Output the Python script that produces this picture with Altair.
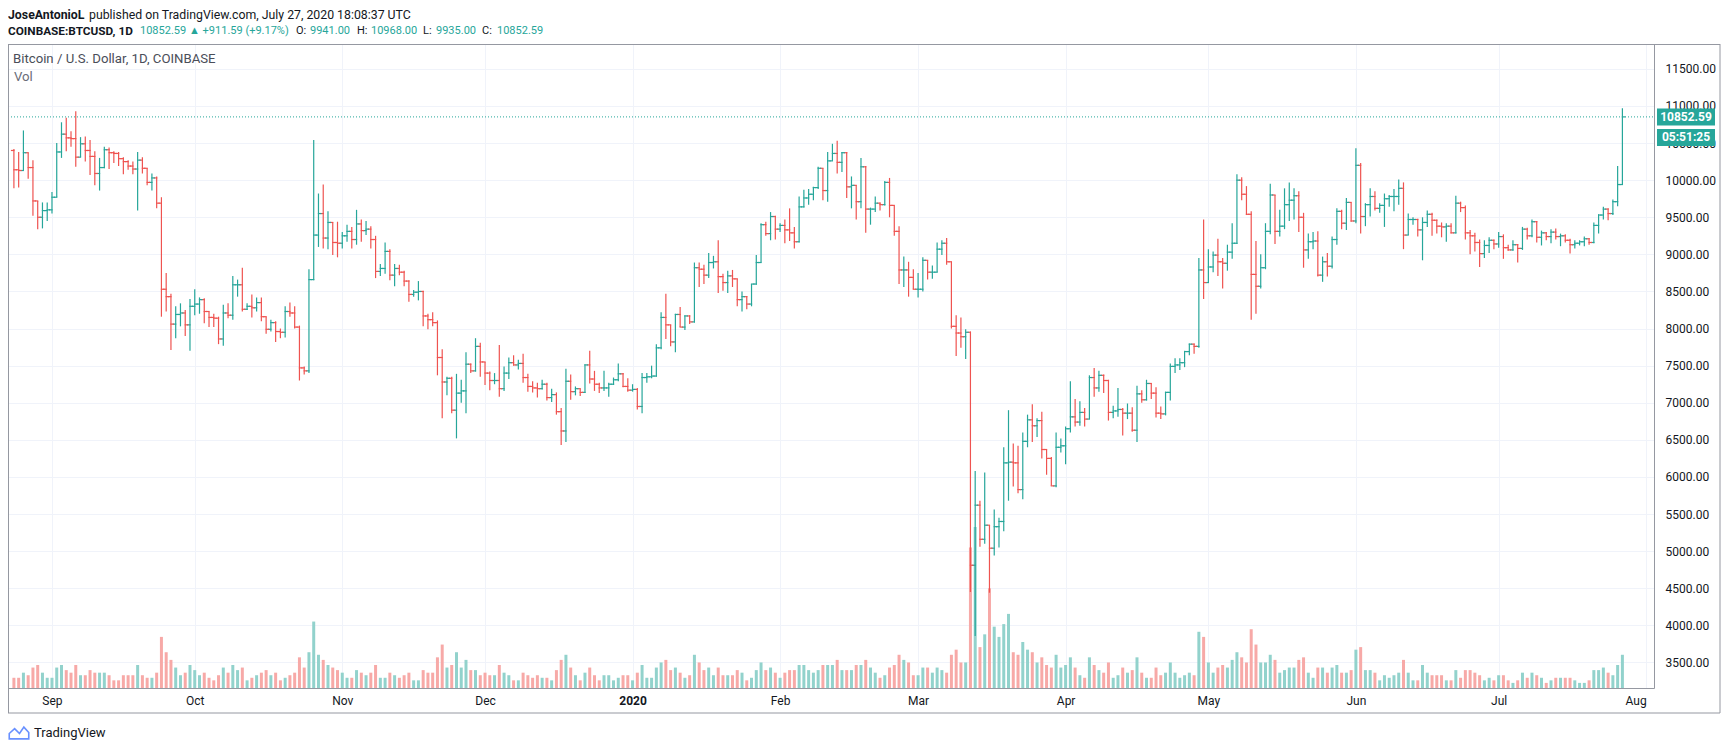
import altair as alt
import pandas as pd

FIRST_DAY = "2019-08-24"

OPEN = [
    10400, 10140, 10130, 10370, 10170, 9720, 9500, 9590,
    9600, 9770, 10380, 10620, 10570, 10560, 10310, 10490, 10400, 10320, 10090, 10170, 10410, 10370, 10360, 10290, 10250, 10190, 10150, 10270, 10160, 9970, 10030, 9690, 8530, 8430, 8060, 8190, 8210, 8050,
    8300, 8330, 8390, 8230, 8150, 8140, 7860, 8210, 8180, 8590, 8590, 8260, 8300, 8280, 8350, 8160, 7990, 8080, 7960, 7950, 8230, 8210, 8020, 7470, 7430, 8660, 9260, 9550, 9220, 9430, 9160,
    9150, 9250, 9310, 9200, 9410, 9320, 9340, 9200, 8770, 8810, 9040, 8720, 8810, 8760, 8640, 8460, 8490, 8500, 8170, 8120, 8080, 7610, 7280, 7330, 6900, 7130, 7160, 7520, 7430, 7760,
    7550, 7400, 7300, 7300, 7190, 7400, 7540, 7510, 7530, 7340, 7220, 7200, 7190, 7250, 7070, 7110, 6880, 6620, 7290, 7150, 7190, 7140, 7510, 7320, 7250, 7200, 7200, 7250, 7310, 7390, 7220,
    7170, 7180, 6950, 7340, 7350, 7360, 7740, 8150, 8050, 7820, 8190, 8020, 8170, 8090, 8820, 8800, 8720, 8890, 8900, 8700, 8620, 8710, 8670, 8390, 8430, 8330, 8600, 8890, 9400, 9280, 9510,
    9340, 9390, 9330, 9290, 9170, 9640, 9760, 9810, 9900, 10160, 9860, 10260, 10360, 10240, 10370, 9910, 9930, 9710, 10180, 9610, 9610, 9690, 9670, 9970, 9660, 9310, 8790, 8790, 8690,
    8530, 8530, 8920, 8760, 8760, 9070, 9150, 8900, 8030, 7940, 7890, 7950, 4810, 5620, 5160, 5350, 5040, 5330, 5400, 6190, 6200, 6190, 5830, 6480, 6770, 6690, 6760, 6370, 6250, 5880, 6400,
    6420, 6650, 6810, 6740, 6870, 6780, 7340, 7200, 7370, 7300, 6870, 6890, 6910, 6860, 6860, 6630, 7120, 7040, 7260, 7130, 6860, 6850, 7140, 7490, 7510, 7540, 7690, 7790, 7760, 8790,
    8620, 8830, 8990, 8900, 8880, 9030, 9150, 10000, 9810, 9540, 8730, 8570, 8820, 9310, 9800, 9310, 9380, 9670, 9730, 9790, 9500, 9060, 9170, 9180, 8720, 8900, 8840, 9200, 9580, 9420, 9700,
    9450, 10200, 9510, 9670, 9780, 9620, 9660, 9750, 9780, 9780, 9890, 9260, 9470, 9470, 9330, 9430, 9540, 9460, 9380, 9370, 9380, 9290, 9690, 9630, 9290, 9250, 9160, 9010, 9120, 9190,
    9140, 9240, 9090, 9060, 9130, 9080, 9340, 9250, 9440, 9230, 9290, 9240, 9300, 9240, 9250, 9190, 9130, 9150, 9170, 9210, 9160, 9390, 9530, 9610, 9550, 9710, 9941,
]
HIGH = [
    10420, 10380, 10670, 10370, 10270, 9720, 9700, 9700,
    9840, 10500, 10780, 10840, 10660, 10930, 10580, 10590, 10540, 10390, 10300, 10450, 10440, 10390, 10380, 10310, 10270, 10250, 10380, 10310, 10160, 10090, 10050, 9770, 8750, 8470, 8300, 8340, 8250, 8400,
    8530, 8420, 8410, 8230, 8200, 8160, 8320, 8340, 8710, 8660, 8820, 8340, 8460, 8420, 8420, 8160, 8120, 8100, 8000, 8300, 8350, 8300, 8040, 7490, 8800, 10540, 9820, 9940, 9580, 9430, 9440,
    9300, 9400, 9370, 9600, 9470, 9450, 9380, 9250, 8870, 9160, 9070, 8870, 8860, 8780, 8650, 8520, 8640, 8510, 8200, 8220, 8110, 7720, 7350, 7350, 7390, 7310, 7680, 7530, 7870, 7810,
    7550, 7420, 7400, 7780, 7490, 7610, 7640, 7580, 7660, 7390, 7290, 7270, 7310, 7270, 7190, 7140, 6930, 7460, 7380, 7220, 7190, 7520, 7700, 7430, 7270, 7430, 7270, 7340, 7530, 7400, 7330,
    7250, 7200, 7400, 7400, 7500, 7790, 8220, 8470, 8050, 8200, 8290, 8180, 8180, 8890, 8890, 8860, 9020, 8980, 9190, 8740, 8780, 8790, 8670, 8500, 8440, 8600, 8990, 9420, 9440, 9570, 9520,
    9420, 9470, 9620, 9370, 9780, 9870, 9880, 9910, 10180, 10160, 10380, 10490, 10530, 10380, 10380, 10050, 9930, 10300, 10190, 9630, 9780, 9700, 9990, 10030, 9660, 9380, 8970, 8900, 8800,
    8750, 8960, 8920, 8850, 9160, 9190, 9220, 8900, 8180, 8150, 7990, 7960, 6080, 5680, 6060, 5350, 5560, 5450, 6400, 6900, 6450, 6420, 6600, 6840, 6980, 6790, 6880, 6370, 6270, 6600, 6520,
    6680, 7290, 7050, 7020, 6930, 7370, 7470, 7430, 7380, 7310, 6960, 7200, 6930, 6990, 6940, 7230, 7170, 7310, 7260, 7210, 6950, 7150, 7530, 7600, 7600, 7700, 7800, 7800, 8950, 9470,
    9070, 9040, 9210, 8950, 9130, 9420, 10080, 10040, 9920, 9580, 9180, 9000, 9420, 9950, 9800, 9600, 9890, 9970, 9890, 9850, 9560, 9280, 9300, 9310, 8970, 9020, 9240, 9620, 9600, 9760, 9700,
    10430, 10230, 9690, 9890, 9850, 9690, 9820, 9800, 9880, 10010, 9970, 9550, 9500, 9480, 9500, 9590, 9560, 9470, 9430, 9420, 9420, 9790, 9710, 9660, 9330, 9290, 9200, 9190, 9230, 9200,
    9300, 9270, 9130, 9190, 9140, 9370, 9360, 9470, 9450, 9320, 9300, 9340, 9350, 9280, 9270, 9210, 9190, 9190, 9240, 9220, 9430, 9540, 9640, 9620, 9740, 10190, 10968,
]
LOW = [
    9890, 9900, 10130, 10020, 9520, 9340, 9350, 9450,
    9550, 9770, 10300, 10390, 10450, 10180, 10310, 10250, 10070, 9930, 9860, 10160, 10150, 10230, 10190, 10080, 10140, 10080, 9590, 10090, 9930, 9860, 9620, 8160, 8230, 7710, 7870, 8030, 7900, 7700,
    8180, 8200, 8070, 8020, 8020, 7790, 7770, 8140, 8120, 8430, 8230, 8250, 8150, 8230, 8100, 7930, 7960, 7820, 7870, 7880, 8160, 8000, 7300, 7380, 7400, 8650, 9100, 9080, 9070, 8990, 8960,
    9080, 9170, 9080, 9130, 9170, 9260, 9080, 8680, 8710, 8740, 8650, 8570, 8720, 8570, 8360, 8430, 8380, 8030, 7990, 8030, 7370, 6790, 7100, 6860, 6520, 7000, 6860, 7400, 7420, 7350,
    7240, 7170, 7250, 7080, 7160, 7320, 7500, 7450, 7270, 7150, 7140, 7070, 7180, 7030, 7010, 6840, 6430, 6470, 7040, 7100, 7090, 7130, 7260, 7160, 7130, 7160, 7080, 7240, 7290, 7210, 7150,
    7150, 6910, 6860, 7270, 7330, 7350, 7720, 7860, 7760, 7680, 8020, 7980, 8060, 8080, 8560, 8600, 8680, 8810, 8480, 8510, 8480, 8560, 8300, 8230, 8260, 8300, 8590, 8890, 9250, 9190, 9200,
    9300, 9150, 9180, 9080, 9160, 9630, 9670, 9730, 9880, 9730, 9710, 10260, 10090, 10110, 9760, 9620, 9470, 9620, 9290, 9400, 9570, 9590, 9660, 9500, 9250, 8600, 8560, 8430, 8530,
    8420, 8500, 8660, 8670, 8760, 8990, 8860, 8000, 7630, 7740, 7590, 4450, 3858, 5060, 5100, 4440, 4940, 5050, 5270, 5680, 5870, 5780, 5700, 6400, 6470, 6540, 6250, 6030, 5880, 5860, 6330,
    6170, 6600, 6680, 6690, 6680, 6780, 7080, 7150, 7130, 6760, 6790, 6810, 6560, 6780, 6610, 6470, 7000, 7030, 7050, 6800, 6780, 6830, 7030, 7400, 7440, 7480, 7640, 7660, 7740, 8400,
    8620, 8760, 8710, 8540, 8780, 8940, 9140, 9730, 9530, 8120, 8200, 8540, 8800, 9270, 9140, 9240, 9340, 9450, 9470, 9300, 8820, 8940, 9070, 8700, 8630, 8700, 8810, 9130, 9340, 9330, 9440,
    9420, 9280, 9380, 9510, 9590, 9560, 9370, 9640, 9580, 9670, 9070, 9260, 9400, 9240, 8920, 9370, 9250, 9280, 9230, 9170, 9280, 9280, 9570, 9200, 9000, 9040, 8830, 8950, 9020, 9070,
    9090, 8940, 9050, 9050, 8890, 9060, 9200, 9230, 9160, 9120, 9190, 9150, 9200, 9110, 9160, 9010, 9080, 9120, 9110, 9130, 9150, 9280, 9470, 9460, 9530, 9650, 9935,
]
CLOSE = [
    10140, 10130, 10370, 10170, 9720, 9500, 9590, 9600,
    9770, 10380, 10620, 10570, 10560, 10310, 10490, 10400, 10320, 10090, 10170, 10410, 10370, 10360, 10290, 10250, 10190, 10150, 10270, 10160, 9970, 10030, 9690, 8530, 8430, 8060, 8190, 8210, 8050, 8300,
    8330, 8390, 8230, 8150, 8140, 7860, 8210, 8180, 8590, 8590, 8260, 8300, 8280, 8350, 8160, 7990, 8080, 7960, 7950, 8230, 8210, 8020, 7470, 7430, 8660, 9260, 9550, 9220, 9430, 9160, 9150,
    9250, 9310, 9200, 9410, 9320, 9340, 9200, 8770, 8810, 9040, 8720, 8810, 8760, 8640, 8460, 8490, 8500, 8170, 8120, 8080, 7610, 7280, 7330, 6900, 7130, 7160, 7520, 7430, 7760, 7550,
    7400, 7300, 7300, 7190, 7400, 7540, 7510, 7530, 7340, 7220, 7200, 7190, 7250, 7070, 7110, 6880, 6620, 7290, 7150, 7190, 7140, 7510, 7320, 7250, 7200, 7200, 7250, 7310, 7390, 7220, 7170,
    7180, 6950, 7340, 7350, 7360, 7740, 8150, 8050, 7820, 8190, 8020, 8170, 8090, 8820, 8800, 8720, 8890, 8900, 8700, 8620, 8710, 8670, 8390, 8430, 8330, 8600, 8890, 9400, 9280, 9510, 9340,
    9390, 9330, 9290, 9170, 9640, 9760, 9810, 9900, 10160, 9860, 10260, 10360, 10240, 10370, 9910, 9930, 9710, 10180, 9610, 9610, 9690, 9670, 9970, 9660, 9310, 8790, 8790, 8690, 8530,
    8530, 8920, 8760, 8760, 9070, 9150, 8900, 8030, 7940, 7890, 7950, 4810, 5620, 5160, 5350, 5040, 5330, 5400, 6190, 6200, 6190, 5830, 6480, 6770, 6690, 6760, 6370, 6250, 5880, 6400, 6420,
    6650, 6810, 6740, 6870, 6780, 7340, 7200, 7370, 7300, 6870, 6890, 6910, 6860, 6860, 6630, 7120, 7040, 7260, 7130, 6860, 6850, 7140, 7490, 7510, 7540, 7690, 7790, 7760, 8790, 8620,
    8830, 8990, 8900, 8880, 9030, 9150, 10000, 9810, 9540, 8730, 8570, 8820, 9310, 9800, 9310, 9380, 9670, 9730, 9790, 9500, 9060, 9170, 9180, 8720, 8900, 8840, 9200, 9580, 9420, 9700, 9450,
    10200, 9510, 9670, 9780, 9620, 9660, 9750, 9780, 9780, 9890, 9260, 9470, 9470, 9330, 9430, 9540, 9460, 9380, 9370, 9380, 9290, 9690, 9630, 9290, 9250, 9160, 9010, 9120, 9190, 9140,
    9240, 9090, 9060, 9130, 9080, 9340, 9250, 9440, 9230, 9290, 9240, 9300, 9240, 9250, 9190, 9130, 9150, 9170, 9210, 9160, 9390, 9530, 9610, 9550, 9710, 9941, 10852.59,
]
# volume, thousand BTC
VOLUME = [
    4, 4, 6, 5, 8, 9, 6, 4,
    4, 8, 9, 7, 6, 9, 5, 5, 7, 6, 6, 6, 5, 3, 3, 5, 5, 5, 9, 5, 4, 4, 6, 20, 14, 11, 8, 5, 6, 9,
    7, 5, 6, 4, 3, 5, 8, 6, 9, 7, 8, 3, 4, 5, 6, 7, 5, 6, 3, 4, 5, 6, 12, 8, 14, 26, 13, 11, 9, 8, 7,
    6, 4, 4, 7, 6, 5, 6, 9, 4, 4, 6, 5, 4, 5, 6, 3, 3, 7, 6, 6, 12, 17, 8, 9, 14, 8, 11, 7, 7, 5,
    6, 5, 5, 9, 6, 5, 3, 3, 6, 5, 4, 5, 4, 4, 3, 7, 11, 13, 8, 5, 3, 6, 8, 5, 3, 5, 5, 3, 4, 5, 5,
    3, 6, 9, 4, 4, 8, 10, 11, 7, 8, 6, 4, 5, 13, 10, 7, 8, 5, 8, 5, 5, 5, 7, 6, 3, 4, 7, 10, 7, 8, 6,
    4, 6, 7, 7, 9, 9, 7, 6, 7, 9, 9, 9, 11, 7, 7, 7, 9, 9, 11, 8, 6, 4, 5, 8, 9, 13, 11, 10, 5,
    5, 8, 8, 6, 8, 7, 6, 13, 15, 10, 10, 55, 63, 16, 21, 39, 24, 20, 25, 29, 14, 13, 18, 15, 14, 10, 12, 9, 8, 13, 8,
    9, 12, 8, 5, 4, 12, 9, 7, 6, 10, 4, 5, 8, 6, 7, 12, 6, 4, 4, 8, 5, 6, 10, 6, 4, 5, 6, 5, 22, 20,
    10, 6, 8, 9, 8, 11, 14, 12, 10, 23, 17, 10, 10, 13, 11, 6, 7, 8, 8, 11, 12, 6, 4, 8, 8, 6, 8, 9, 6, 6, 7,
    15, 16, 7, 7, 6, 3, 5, 4, 5, 6, 11, 6, 3, 3, 9, 6, 5, 5, 5, 3, 3, 7, 4, 7, 7, 6, 5, 3, 4, 3,
    5, 5, 3, 2, 3, 6, 4, 6, 5, 4, 2, 3, 4, 4, 4, 4, 3, 2, 2, 3, 7, 7, 8, 6, 5, 9, 13,
]

PRICE_TICKS = [3500, 4000, 4500, 5000, 5500, 6000, 6500, 7000, 7500, 8000,
               8500, 9000, 9500, 10000, 10500, 11000, 11500]
MONTH_STARTS = ["2019-09-01", "2019-10-01", "2019-11-01", "2019-12-01", "2020-01-01",
                "2020-02-01", "2020-03-01", "2020-04-01", "2020-05-01", "2020-06-01",
                "2020-07-01", "2020-08-01"]
X_DOMAIN = ["2019-08-23T19:26:00", "2020-08-01T14:10:00"]
Y_DOMAIN = [3156, 11835]
VOL_DOMAIN = [0, 252]

USER = "JoseAntonioL"
PUBLISHED = "published on TradingView.com, July 27, 2020 18:08:37 UTC"
SYMBOL = "COINBASE:BTCUSD, 1D"
TITLE = "Bitcoin / U.S. Dollar, 1D, COINBASE"
COUNTDOWN = "05:51:25"

n = len(CLOSE)
assert len(OPEN) == n and len(HIGH) == n and len(LOW) == n and len(VOLUME) == n, (
    len(OPEN), len(HIGH), len(LOW), len(CLOSE), len(VOLUME))


def ms(s):
    return int(pd.Timestamp(s, tz="UTC").value // 10**6)


dates = pd.date_range(FIRST_DAY, periods=n, freq="D", tz="UTC")
df = pd.DataFrame({
    "date": [int(d.value // 10**6) for d in dates],
    "open": OPEN, "high": HIGH, "low": LOW, "close": CLOSE, "vol": VOLUME,
})

last = CLOSE[-1]
prev = CLOSE[-2]
chg = last - prev
pct = chg / prev * 100
last_df = pd.DataFrame({"p": [last], "label": [f"{last:.2f}"], "cd": [COUNTDOWN]})

W, H = 1646, 644
TEAL, RED = "#26a69a", "#ef5350"
TEAL_L, RED_L = "#92d2cc", "#f7a9a7"
DARK = "#131722"
GRID = "#f0f3fa"
BORDER = "#9598a1"
FONT = "Roboto"
HS = 12.3   # header font size
NS = 11.0   # header numbers font size

xscale = alt.Scale(type="utc", domain=[ms(X_DOMAIN[0]), ms(X_DOMAIN[1])], nice=False)
xaxis = alt.Axis(
    values=[ms(m) for m in MONTH_STARTS],
    labelExpr="utcmonth(datum.value) == 0 ? utcFormat(datum.value, '%Y') : utcFormat(datum.value, '%b')",
    labelFontWeight={"condition": {"test": "utcmonth(datum.value) == 0", "value": "bold"}, "value": "normal"},
    labelFlush=8, labelPadding=7, ticks=False, tickSize=0,
    grid=True, gridColor=GRID, domainColor=BORDER, labelColor=DARK,
    labelFontSize=12, labelFont=FONT, labelOverlap=False,
)
X = alt.X("date:T", scale=xscale, axis=xaxis, title=None)

yscale = alt.Scale(domain=Y_DOMAIN, nice=False, zero=False)
yaxis = alt.Axis(
    orient="right", values=PRICE_TICKS, format=".2f", labelAlign="left",
    labelPadding=11, ticks=False, tickSize=0, grid=True, gridColor=GRID,
    domainColor=BORDER, labelColor=DARK, labelFontSize=12, labelFont=FONT,
    labelOverlap=False,
)


def py(field):
    return alt.Y(f"{field}:Q", scale=yscale, axis=yaxis, title=None)


up = "datum.close >= datum.open"
col = alt.condition(up, alt.value(TEAL), alt.value(RED))
vcol = alt.condition(up, alt.value(TEAL_L), alt.value(RED_L))

base = alt.Chart(df)
vol = base.mark_bar(width=3).encode(
    x=X,
    y=alt.Y("vol:Q", scale=alt.Scale(domain=VOL_DOMAIN, nice=False), axis=None, title=None),
    color=vcol,
)
hl = base.mark_rule(strokeWidth=1.2).encode(x=X, y=py("low"), y2="high:Q", color=col)
op = base.mark_rule(strokeWidth=1.2, xOffset=-3, x2Offset=0.6).encode(
    x=X, x2="date:T", y=py("open"), color=col)
cl = base.mark_rule(strokeWidth=1.2, xOffset=-0.6, x2Offset=3).encode(
    x=X, x2="date:T", y=py("close"), color=col)

lc = alt.Chart(last_df)
pline = lc.mark_rule(color=TEAL, strokeDash=[1, 2], strokeWidth=1).encode(
    y=py("p"), x=alt.value(0), x2=alt.value(W))
box1 = lc.mark_rect(color=TEAL, yOffset=-8.5, y2Offset=8.5).encode(
    y=py("p"), y2="p:Q", x=alt.value(W + 3), x2=alt.value(W + 61))
box1t = lc.mark_text(color="white", fontWeight="bold", fontSize=12, font=FONT,
                     align="center", baseline="middle").encode(
    y=py("p"), x=alt.value(W + 32), text="label:N")
box2 = lc.mark_rect(color=TEAL, yOffset=12, y2Offset=29).encode(
    y=py("p"), y2="p:Q", x=alt.value(W + 3), x2=alt.value(W + 61))
box2t = lc.mark_text(color="white", fontWeight="bold", fontSize=12, font=FONT,
                     align="center", baseline="middle", dy=20.5).encode(
    y=py("p"), x=alt.value(W + 32), text="cd:N")

price = alt.layer(hl, op, cl, pline, box1, box1t, box2, box2t)

one = pd.DataFrame({"t": [""]})


def txt(s, x, y, color=DARK, bold=False, size=HS, align="left"):
    return alt.Chart(pd.DataFrame({"t": [s]})).mark_text(
        color=color, fontWeight="bold" if bold else "normal", fontSize=size,
        font=FONT, align=align, baseline="middle").encode(
        x=alt.value(x), y=alt.value(y), text="t:N")


def hrule(x1, x2, y, color=BORDER):
    return alt.Chart(one).mark_rule(color=color, strokeWidth=1).encode(
        x=alt.value(x1), x2=alt.value(x2), y=alt.value(y))


def vrule(x, y1, y2, color=BORDER):
    return alt.Chart(one).mark_rule(color=color, strokeWidth=1).encode(
        x=alt.value(x), y=alt.value(y1), y2=alt.value(y2))


L1, L2 = -29.5, -13
deco = [
    txt(USER, 0, L1, bold=True),
    txt(PUBLISHED, 81, L1),
    txt(SYMBOL, 0, L2, bold=True, size=11.8),
    txt(f"{last:.2f}", 132, L2, color=TEAL, size=NS),
    txt(f"\u25B2 +{chg:.2f} (+{pct:.2f}%)", 181, L2, color=TEAL, size=NS),
    txt("O:", 288, L2, size=NS), txt(f"{OPEN[-1]:.2f}", 302, L2, color=TEAL, size=NS),
    txt("H:", 349, L2, size=NS), txt(f"{HIGH[-1]:.2f}", 363, L2, color=TEAL, size=NS),
    txt("L:", 415, L2, size=NS), txt(f"{LOW[-1]:.2f}", 428, L2, color=TEAL, size=NS),
    txt("C:", 474, L2, size=NS), txt(f"{CLOSE[-1]:.2f}", 489, L2, color=TEAL, size=NS),
    txt(TITLE, 5, 15, color="#4a4e59", size=13.2),
    txt("Vol", 6, 33, color="#6a6d78", size=13.2),
    hrule(0, 1712, 0.5),
    hrule(0, 1712, 669),
    vrule(1712, 0, 669),
    vrule(0.5, 0, 669),
    txt("TradingView", 26, 689, size=13),
    alt.Chart(one).mark_point(
        shape="M -1 0.6 L -1 0.05 L -0.45 -0.45 L 0.05 0.05 L 0.5 -0.6 L 1 -0.05 L 1 0.6 Z",
        filled=False, color="#2962ff", strokeWidth=1.6, size=380).encode(
        x=alt.value(11), y=alt.value(689)),
]

chart = alt.layer(vol, price, *deco).resolve_scale(y="independent").properties(
    width=W, height=H,
    padding={"left": 0, "top": 36, "right": 67, "bottom": 58},
    autosize=alt.AutoSizeParams(type="none"),
    background="white",
).configure_view(stroke=None)

chart.save("out.html", embed_options={"renderer": "svg", "actions": False})
